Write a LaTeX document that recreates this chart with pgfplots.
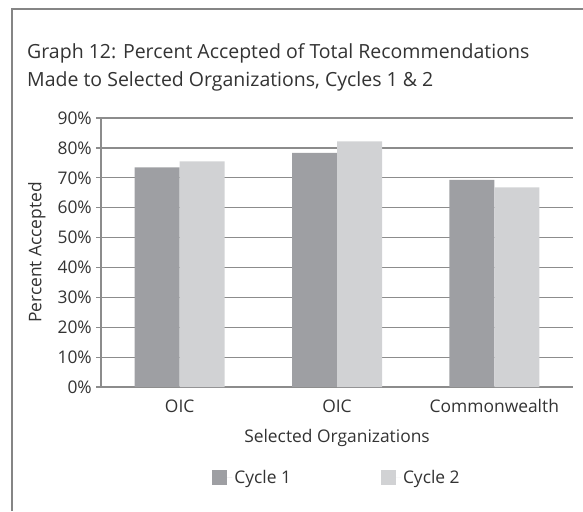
\documentclass[border=0pt]{standalone}
\usepackage{fontspec}
\setmainfont{Open Sans}
\usepackage{pgfplots}
\pgfplotsset{compat=1.18}
\definecolor{barA}{HTML}{9E9FA3}
\definecolor{barB}{HTML}{D1D2D4}
\definecolor{gridc}{HTML}{8C8C8C}
\definecolor{framec}{HTML}{858585}
\definecolor{txt}{HTML}{333333}
\begin{document}
\begin{tikzpicture}
\useasboundingbox (0pt,0pt) rectangle (583pt,-511pt);
\draw[framec, line width=1.3pt] (12pt,-511pt) -- (12pt,-9pt) -- (590pt,-9pt);
\node[anchor=base west, inner sep=0pt, text=txt, font=\fontsize{19.5}{19.5}\selectfont] at (27pt,-59pt) {Graph 12: Percent Accepted of Total Recommendations};
\node[anchor=base west, inner sep=0pt, text=txt, font=\fontsize{19.5}{19.5}\selectfont] at (27pt,-86pt) {Made to Selected Organizations, Cycles 1 \& 2};
\begin{axis}[
  at={(101pt,-387pt)}, anchor=south west,
  scale only axis, width=472pt, height=269pt,
  xmin=-0.5, xmax=2.5, ymin=0, ymax=90,
  ybar=0pt, bar width=45pt,
  axis lines*=left,
  axis line style={gridc, line width=1.2pt},
  ymajorgrids, grid style={gridc, line width=1.2pt},
  xtick=data, xticklabels={OIC,OIC,Commonwealth},
  ytick={0,10,...,90},
  yticklabels={0\%,10\%,20\%,30\%,40\%,50\%,60\%,70\%,80\%,90\%},
  tick align=outside, major tick length=5pt,
  ytick style={gridc, line width=1.2pt},
  xtick style={draw=none},
  tick label style={font=\fontsize{17.4}{17.4}\selectfont, text=txt},
  yticklabel style={anchor=east, inner sep=0pt, xshift=-4pt},
  xticklabel style={anchor=base, inner sep=0pt, yshift=-20pt},
  ylabel={Percent Accepted},
  xlabel={Selected Organizations},
  label style={font=\fontsize{17.4}{17.4}\selectfont, text=txt},
  ylabel style={at={(axis description cs:-0.136,0.5)}, anchor=center},
  xlabel style={at={(axis description cs:0.5,-0.208)}, anchor=base, inner sep=0pt},
  legend columns=2,
  legend style={at={(axis description cs:0.5,-0.338)}, anchor=center, draw=none,
    font=\fontsize{17.4}{17.4}\selectfont, text=txt,
    /tikz/every even column/.append style={column sep=88pt}},
  legend image code/.code={\fill[#1] (0pt,-7.5pt) rectangle (15pt,7.5pt); \path (0pt,0pt) -- (20pt,0pt);},
]
\addplot[fill=barA, draw=none] coordinates {(0,73.5) (1,78.3) (2,69.3)};
\addplot[fill=barB, draw=none] coordinates {(0,75.5) (1,82.2) (2,66.8)};
\legend{Cycle 1, Cycle 2}
\end{axis}
\end{tikzpicture}
\end{document}
